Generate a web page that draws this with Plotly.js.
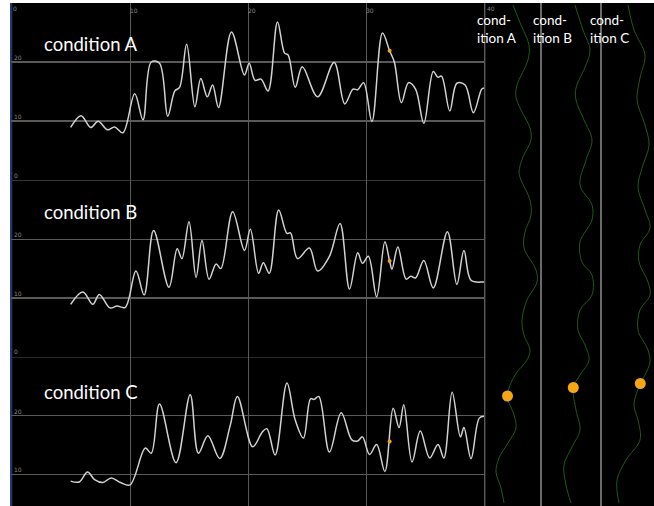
<!DOCTYPE html>
<html>
<head>
<meta charset="utf-8">
<script src="https://cdn.plot.ly/plotly-3.0.1.min.js"></script>
<style>html,body{margin:0;padding:0;background:#fff;}#chart{width:654px;height:506px;}</style>
</head>
<body>
<div id="chart"></div>
<script>
// ---- data ----
const conditions = ["condition A", "condition B", "condition C"];
const columnLabels = ["cond-<br>ition A", "cond-<br>ition B", "cond-<br>ition C"];
const xTicks = [0, 10, 20, 30, 40];
const xTickText = ["0", "10", "20", "30", "40"];

const xA = [4.97,5.85,6.67,7.3,8.1,8.7,9.4,10.4,11.1,11.8,12.5,13.2,13.8,14.2,14.8,15.5,16.0,16.55,17.0,17.5,18.6,19.7,20.1,20.6,21.1,21.7,22.5,23.1,23.4,24.0,24.6,25.9,27.3,28.2,28.9,29.3,29.8,30.5,31.4,32.0,32.4,33.0,33.6,34.2,34.9,35.7,36.1,36.4,37.1,37.7,38.4,39.1,39.8,40.0];
const yA = [8.9,10.9,8.9,9.95,8.5,9.0,8.0,14.6,10.2,20.0,19.8,10.8,15.1,15.7,23.0,12.4,17.2,14.1,16.1,12.3,25.1,17.8,19.8,16.9,17.1,15.1,26.8,21.5,21.2,15.7,19.2,14.1,19.9,12.9,15.4,15.3,16.5,9.9,24.9,21.9,20.0,13.1,16.5,15.4,9.6,18.4,17.4,17.6,11.7,16.4,16.1,11.4,15.4,15.6];

const xB = [4.97,6.0,6.85,7.4,8.3,8.9,9.6,10.5,11.2,12.0,13.3,14.0,14.4,15.0,15.6,16.1,16.7,17.3,17.7,18.7,19.7,20.2,20.9,21.3,21.8,22.6,23.3,23.6,24.2,25.2,25.9,26.9,27.8,28.6,29.3,29.7,30.2,30.9,31.6,32.0,32.2,32.7,33.4,33.8,34.2,34.9,35.7,36.9,37.7,38.3,38.9,39.9,40.0];
const yB = [8.9,11.0,8.9,10.6,8.3,8.6,8.4,14.6,10.5,21.5,11.8,18.4,16.7,23.0,13.5,19.8,13.2,15.8,15.0,24.7,18.1,21.7,14.2,16.0,14.2,25.0,21.0,21.1,16.7,18.5,14.6,17.1,22.7,11.5,17.7,15.9,17.1,10.2,19.6,16.3,14.9,18.7,13.2,13.7,13.4,16.4,11.7,21.3,12.3,18.1,13.0,12.7,12.7];

const xC = [4.97,5.7,6.4,7.0,7.7,8.4,9.2,10.0,11.3,11.8,12.5,13.9,15.1,15.8,16.6,17.6,18.5,19.1,20.4,21.2,21.6,22.3,23.3,24.0,24.7,25.3,25.6,26.0,26.9,27.9,28.8,29.3,29.7,30.3,30.9,31.6,32.3,32.8,33.2,33.9,34.6,35.4,36.1,36.6,37.3,38.0,38.3,38.9,39.6,40.0];
const yC = [8.85,8.7,10.4,9.1,8.6,9.4,8.6,8.2,14.5,13.6,22.0,12.0,23.6,13.6,16.6,12.7,18.4,23.3,14.7,17.2,17.8,13.3,25.6,19.3,16.2,22.9,22.8,23.3,13.8,20.5,15.9,15.7,16.4,13.4,15.1,10.5,21.3,18.0,21.9,12.1,17.4,12.8,15.1,12.8,24.0,16.4,18.0,12.7,19.6,19.9];

const markerX = 32.0;
const markerY = [21.9, 16.3, 15.6];

// right-hand columns: time (down the page) and sideways offset inside each column
const tA = [5,25,45,60,85,97,110,128,140,157,172,180,200,215,232,248,270,282,300,320,335,350,360,375,396,415,428,443,458,472,488,503];
const gA = [32,40,48,47,36,35,40,49,50,42,38,40,49,50,44,43,55,56,46,41,43,49,46,34,26.5,33,35,27,18,15,20,23];
const tB = [5,30,50,65,88,100,120,140,160,185,205,220,242,262,275,295,310,330,345,360,375,387.5,410,430,447,465,485,503];
const gB = [34,42,49,45,35,35,43,51,45,39,51,51,39,41,51,51,39,37,44,48,39,32.3,35,39,31,23,25,30];
const tC = [5,30,55,78,100,125,145,168,187,210,228,245,262,282,295,310,330,350,362,375,383.5,405,420,440,460,480,503];
const gC = [27,33,44,39,36,44,48,41,37,44,49,39,38,47,49,39,37,47,49,44,39.3,33,37,39,25,16,18];
const dotT = [396, 387.5, 383.5];
const dotG = [26.5, 32.3, 39.3];

// ---- layout geometry (pixels of the 654x506 picture) ----
const W = 654, H = 506, L = 11, T = 3;
const pw = W - L, ph = H - T;
const px2x = p => (p - L) / pw;
const py2y = p => (H - p) / ph;
const x0px = 12, x40px = 484, sx = (x40px - x0px) / 40;
const xRange = [(L - x0px) / sx, 40.1];
const xSplit = px2x(x0px + xRange[1] * sx);
const colLeft = 481, colW = 60;

const lineColor = '#d2d2d2';
const gridColor = '#5a5a5a';
const tickFont = {family: 'DejaVu Sans', size: 6, color: '#8a8a8a'};

const traces = [];
const xs = [xA, xB, xC], ys = [yA, yB, yC];
const axSuffix = ['', '2', '3'];
for (let i = 0; i < 3; i++) {
  traces.push({x: xs[i], y: ys[i], type: 'scatter', mode: 'lines',
    line: {color: lineColor, width: 1.5, shape: 'spline', smoothing: 1.0},
    xaxis: 'x' + axSuffix[i], yaxis: 'y' + axSuffix[i], hoverinfo: 'skip'});
  traces.push({x: [markerX], y: [markerY[i]], type: 'scatter', mode: 'markers',
    marker: {color: '#f2a51a', size: 4},
    xaxis: 'x' + axSuffix[i], yaxis: 'y' + axSuffix[i], hoverinfo: 'skip'});
}
const ts = [tA, tB, tC], gs = [gA, gB, gC];
for (let k = 0; k < 3; k++) {
  traces.push({x: gs[k].map(v => v + k * colW), y: ts[k], type: 'scatter', mode: 'lines',
    line: {color: '#1f5a1b', width: 1, shape: 'spline', smoothing: 1.0},
    xaxis: 'x4', yaxis: 'y4', hoverinfo: 'skip'});
}
traces.push({x: dotG.map((v, k) => v + k * colW), y: dotT, type: 'scatter', mode: 'markers',
  marker: {color: '#f5a614', size: 11}, xaxis: 'x4', yaxis: 'y4', hoverinfo: 'skip'});

const xBase = {range: xRange, domain: [0, xSplit], tickvals: xTicks, showgrid: true,
  gridcolor: gridColor, gridwidth: 1, zeroline: false, showline: false, ticks: '',
  fixedrange: true};
const yBase = {range: [-0.12, 30], tickvals: [0, 10, 20], showgrid: true, gridcolor: gridColor,
  gridwidth: 1.3, zeroline: false, showline: false, ticks: '', ticklabelposition: 'inside top',
  tickfont: tickFont, fixedrange: true};

const yA0 = py2y(180.7), yB0 = py2y(357.2);

const annotations = [];
const labY = [44, 212, 392];
conditions.forEach((c, i) => annotations.push({text: c, xref: 'paper', yref: 'paper',
  x: px2x(42), y: py2y(labY[i]), xanchor: 'left', yanchor: 'middle', showarrow: false,
  font: {family: 'Lato', size: 18.5, color: '#ffffff'}}));
const colLabX = [475, 531, 588];
columnLabels.forEach((c, i) => annotations.push({text: c, xref: 'paper', yref: 'paper',
  x: px2x(colLabX[i]), y: py2y(10), xanchor: 'left', yanchor: 'top', align: 'left',
  showarrow: false, font: {family: 'Lato', size: 13.5, color: '#ffffff'}}));
// first and last top tick labels sit at the plot edges
annotations.push({text: xTickText[0], xref: 'paper', yref: 'paper', x: px2x(x0px - 1),
  y: py2y(3), xanchor: 'left', yanchor: 'top', showarrow: false, font: tickFont});
annotations.push({text: xTickText[4], xref: 'paper', yref: 'paper', x: px2x(x40px + 1),
  y: py2y(3), xanchor: 'left', yanchor: 'top', showarrow: false, font: tickFont});

const layout = {
  width: W, height: H,
  margin: {l: L, r: 0, t: T, b: 0, pad: 0},
  paper_bgcolor: '#ffffff', plot_bgcolor: '#000000',
  showlegend: false,
  xaxis: Object.assign({}, xBase, {anchor: 'y', side: 'top', showticklabels: true,
    ticktext: [''].concat(xTickText.slice(1, 4)).concat(['']),
    ticklabelposition: 'inside right', tickfont: tickFont}),
  xaxis2: Object.assign({}, xBase, {anchor: 'y2', showticklabels: false}),
  xaxis3: Object.assign({}, xBase, {anchor: 'y3', showticklabels: false}),
  yaxis: Object.assign({}, yBase, {domain: [yA0, 1], anchor: 'x'}),
  yaxis2: Object.assign({}, yBase, {domain: [yB0, yA0], anchor: 'x2'}),
  yaxis3: Object.assign({}, yBase, {domain: [0, yB0], anchor: 'x3', range: [4.6, 30], tickvals: [10, 20]}),
  xaxis4: {domain: [xSplit, 1], range: [x0px + xRange[1] * sx - colLeft, W - colLeft], anchor: 'y4',
    tickvals: [colW, 2 * colW], showticklabels: false, showgrid: true,
    gridcolor: '#6a6a6a', gridwidth: 1.6, zeroline: false, ticks: '', fixedrange: true},
  yaxis4: {domain: [0, 1], range: [H, T], anchor: 'x4', showgrid: false, zeroline: false,
    showticklabels: false, ticks: '', fixedrange: true},
  shapes: [
    {type: 'rect', xref: 'paper', yref: 'paper', x0: px2x(10), x1: px2x(12.3), y0: 0, y1: 1,
     fillcolor: '#24386a', line: {width: 0}, layer: 'below'}
  ],
  annotations: annotations
};

Plotly.newPlot('chart', traces, layout, {staticPlot: true, displayModeBar: false});
</script>
</body>
</html>
